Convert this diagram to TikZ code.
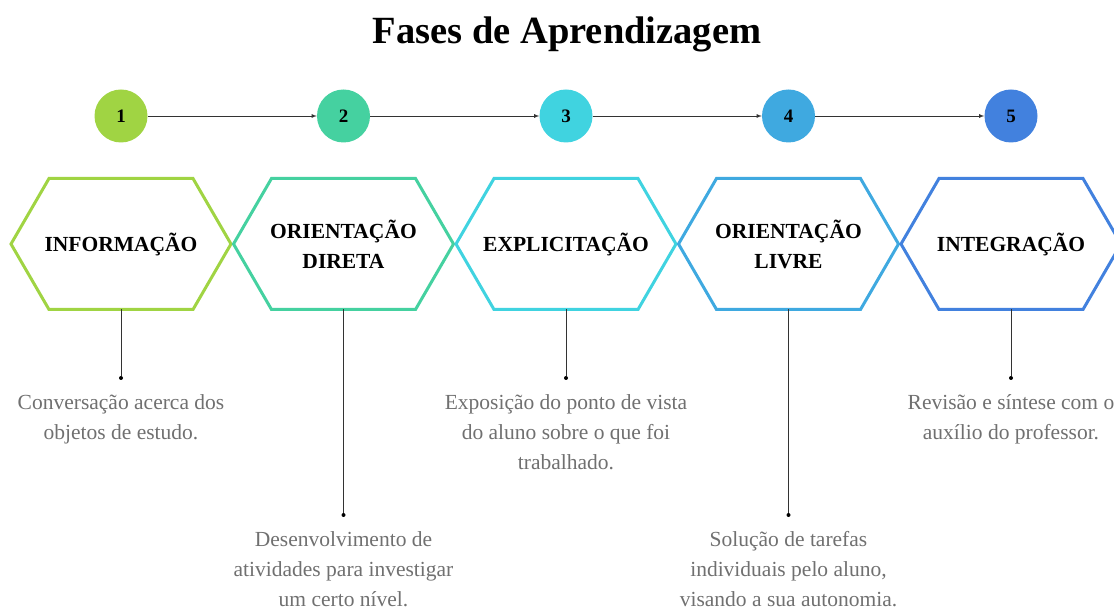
\documentclass[tikz,border=0pt]{standalone}
\usepackage{fontspec}
\setmainfont{Liberation Serif}
\usepackage{tikz}
\usetikzlibrary{arrows,calc}
\definecolor{faseA}{HTML}{A0D443}
\definecolor{faseB}{HTML}{45D1A0}
\definecolor{faseC}{HTML}{40D3E0}
\definecolor{faseD}{HTML}{3FA9E0}
\definecolor{faseE}{HTML}{4281DE}
\definecolor{texto}{HTML}{707070}
\definecolor{linha}{HTML}{333333}
\newcommand{\hexagono}[2]{\draw[hexborda,#2] ($(#1)+(-110,0)$) -- ++(38,-65.5) -- ++(144,0) -- ++(38,65.5) -- ++(-38,65.5) -- ++(-144,0) -- cycle;}

\begin{document}
\begin{tikzpicture}[x=1pt,y=-1pt,
numero/.style={circle,minimum size=53pt,inner sep=0pt,font=\fontsize{19}{19}\selectfont\bfseries},
fase/.style={align=center,font=\fontsize{21.5}{30}\selectfont\bfseries},
hexborda/.style={line width=3pt,line join=miter},
descricao/.style={align=center,anchor=north,inner sep=0pt,text=texto,font=\fontsize{21.5}{30}\selectfont},
seta/.style={->,>=latex,draw=linha,line width=0.8pt},
haste/.style={draw=linha,line width=0.8pt},
ponto/.style={circle,fill=black,inner sep=0pt,minimum size=4pt}]
\useasboundingbox (0,0) rectangle (1114,609);
\clip (0,0) rectangle (1114,609);

\node[anchor=base,font=\fontsize{38.5}{40}\selectfont\bfseries] (titulo) at (567,44) {Fases de Aprendizagem};

\node[numero,fill=faseA] (c1) at (121,116) {1};
\node[numero,fill=faseB] (c2) at (343.5,116) {2};
\node[numero,fill=faseC] (c3) at (566,116) {3};
\node[numero,fill=faseD] (c4) at (788.5,116) {4};
\node[numero,fill=faseE] (c5) at (1011,116) {5};
\draw[seta] (c1) -- (c2);
\draw[seta] (c2) -- (c3);
\draw[seta] (c3) -- (c4);
\draw[seta] (c4) -- (c5);

\node[fase] (h1) at (121,244) {INFORMAÇÃO};
\node[fase] (h2) at (343.5,244) {ORIENTAÇÃO\\DIRETA};
\node[fase] (h3) at (566,244) {EXPLICITAÇÃO};
\node[fase] (h4) at (788.5,244) {ORIENTAÇÃO\\LIVRE};
\node[fase] (h5) at (1011,244) {INTEGRAÇÃO};
\hexagono{h1}{faseA}
\hexagono{h2}{faseB}
\hexagono{h3}{faseC}
\hexagono{h4}{faseD}
\hexagono{h5}{faseE}

\coordinate (b1) at ($(h1)+(0,65.5)$);
\coordinate (b2) at ($(h2)+(0,65.5)$);
\coordinate (b3) at ($(h3)+(0,65.5)$);
\coordinate (b4) at ($(h4)+(0,65.5)$);
\coordinate (b5) at ($(h5)+(0,65.5)$);
\node[ponto] (p1) at (121,378) {};
\node[ponto] (p2) at (343.5,515) {};
\node[ponto] (p3) at (566,378) {};
\node[ponto] (p4) at (788.5,515) {};
\node[ponto] (p5) at (1011,378) {};
\draw[haste] (b1) -- (p1);
\draw[haste] (b2) -- (p2);
\draw[haste] (b3) -- (p3);
\draw[haste] (b4) -- (p4);
\draw[haste] (b5) -- (p5);

\node[descricao] (t1) at (121,394) {Conversação acerca dos\\objetos de estudo.};
\node[descricao] (t2) at (343.5,531) {Desenvolvimento de\\atividades para investigar\\um certo nível.};
\node[descricao] (t3) at (566,394) {Exposição do ponto de vista\\do aluno sobre o que foi\\trabalhado.};
\node[descricao] (t4) at (788.5,531) {Solução de tarefas\\individuais pelo aluno,\\visando a sua autonomia.};
\node[descricao] (t5) at (1011,394) {Revisão e síntese com o\\auxílio do professor.};
\end{tikzpicture}
\end{document}
